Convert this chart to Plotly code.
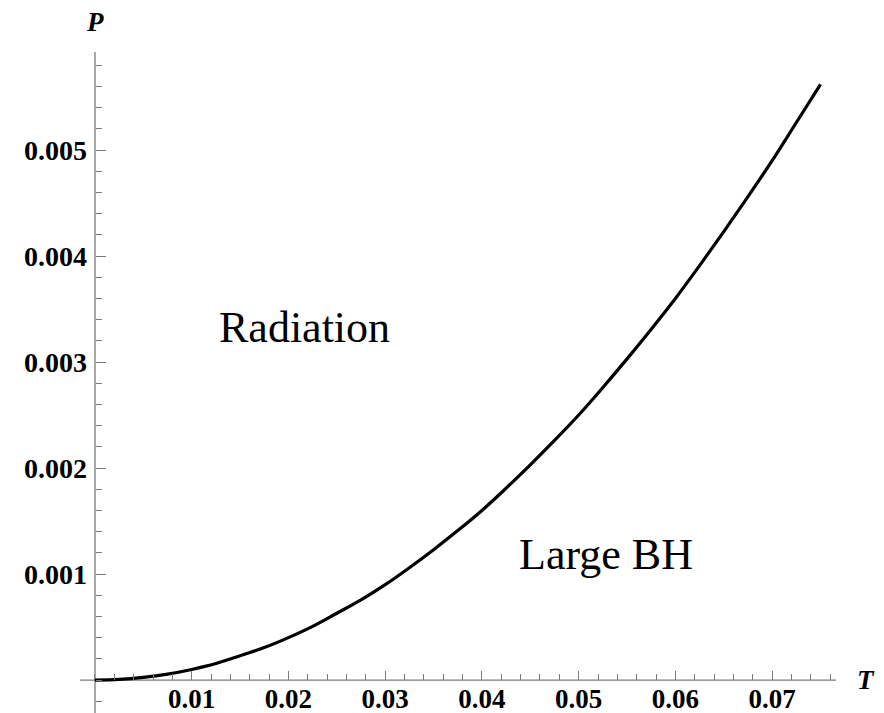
import plotly.graph_objects as go

# Data
T_vals = [0.0, 0.0025, 0.005, 0.0075, 0.01, 0.0125, 0.015, 0.0175, 0.02, 0.0225,
          0.025, 0.0275, 0.03, 0.0325, 0.035, 0.0375, 0.04, 0.0425, 0.045, 0.0475,
          0.05, 0.0525, 0.055, 0.0575, 0.06, 0.0625, 0.065, 0.0675, 0.07, 0.0725,
          0.075]
P_vals = [0.0, 0.000006, 0.000025, 0.000056, 0.0001, 0.000156, 0.00023, 0.000306,
          0.0004, 0.000506, 0.00063, 0.000756, 0.0009, 0.00106, 0.00123, 0.00141,
          0.0016, 0.00181, 0.00203, 0.00226, 0.0025, 0.00276, 0.00303, 0.00331,
          0.0036, 0.00391, 0.00423, 0.00456, 0.0049, 0.00526, 0.00562]

x_ticks = [0.01, 0.02, 0.03, 0.04, 0.05, 0.06, 0.07]
x_tick_text = ["0.01", "0.02", "0.03", "0.04", "0.05", "0.06", "0.07"]
y_ticks = [0.001, 0.002, 0.003, 0.004, 0.005]
y_tick_text = ["0.001", "0.002", "0.003", "0.004", "0.005"]

region_labels = ["Radiation", "Large BH"]
region_T = [0.0217, 0.0528]
region_P = [0.003325, 0.001184]

X_RANGE = [-0.00155, 0.0766]
Y_RANGE = [-0.000311, 0.005925]

serif = "Liberation Serif, Times New Roman, serif"
axis_col = "#7a7a7a"

fig = go.Figure()
fig.add_trace(go.Scatter(
    x=T_vals, y=P_vals, mode="lines",
    line=dict(color="black", width=3.2, shape="spline", smoothing=1.0),
    hoverinfo="skip", showlegend=False,
))

xpos = (0 - Y_RANGE[0]) / (Y_RANGE[1] - Y_RANGE[0])
ypos = (0 - X_RANGE[0]) / (X_RANGE[1] - X_RANGE[0])

fig.update_layout(
    width=884, height=713,
    margin=dict(l=80, r=48, t=52, b=0, pad=0),
    paper_bgcolor="white", plot_bgcolor="white",
    xaxis=dict(
        range=X_RANGE, anchor="free", position=xpos,
        showgrid=False, zeroline=False,
        showline=False,
        tickmode="array", tickvals=x_ticks, ticktext=x_tick_text,
        ticks="inside", ticklen=9, tickwidth=1, tickcolor=axis_col,
        minor=dict(tickmode="linear", tick0=0, dtick=0.002, ticks="inside",
                   ticklen=6, tickwidth=1, tickcolor=axis_col, showgrid=False),
        tickfont=dict(family=serif, size=27, color="black", weight="bold"),
        automargin=False,
    ),
    yaxis=dict(
        range=Y_RANGE, anchor="free", position=ypos,
        showgrid=False, zeroline=False,
        showline=False,
        tickmode="array", tickvals=y_ticks, ticktext=y_tick_text,
        ticks="inside", ticklen=10, tickwidth=1, tickcolor=axis_col,
        minor=dict(tickmode="linear", tick0=0, dtick=0.0002, ticks="inside",
                   ticklen=6, tickwidth=1, tickcolor=axis_col, showgrid=False),
        tickfont=dict(family=serif, size=28, color="black", weight="bold"),
        ticklabelstandoff=8,
        automargin=False,
    ),
)

# axis lines crossing at the origin
fig.add_shape(type="line", xref="paper", yref="y", x0=0, x1=1, y0=0, y1=0,
              line=dict(color=axis_col, width=1.3), layer="below")
fig.add_shape(type="line", xref="x", yref="paper", x0=0, x1=0, y0=0, y1=1,
              line=dict(color=axis_col, width=1.3), layer="below")

for txt, tx, py in zip(region_labels, region_T, region_P):
    fig.add_annotation(x=tx, y=py, xref="x", yref="y", text=txt, showarrow=False,
                       xanchor="center", yanchor="middle",
                       font=dict(family=serif, size=44, color="black"))

fig.add_annotation(x=0, y=1 + 30 / 661, xref="x", yref="paper", text="<b><i>P</i></b>",
                   showarrow=False, xanchor="center", yanchor="middle",
                   font=dict(family=serif, size=27, color="black"))
fig.add_annotation(x=1 + 30 / 756, y=0, xref="paper", yref="y", text="<b><i>T</i></b>",
                   showarrow=False, xanchor="center", yanchor="middle",
                   font=dict(family=serif, size=27, color="black"))

fig.write_html(
    "out.html",
    config={"displayModeBar": False},
    post_script="document.body.style.margin='0';document.body.style.overflow='hidden';",
)
